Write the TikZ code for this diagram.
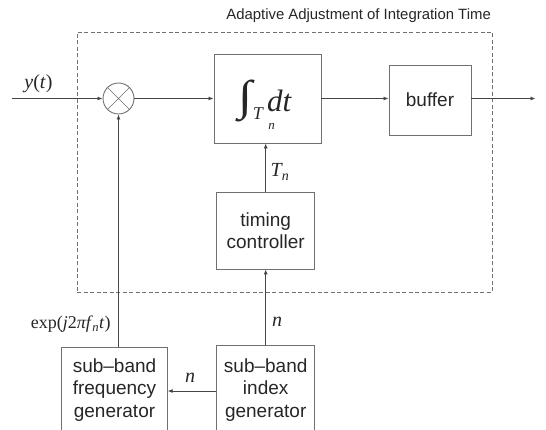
\documentclass[tikz,border=0pt]{standalone}
\usepackage{fontspec}
\setmainfont{Liberation Sans}
\usetikzlibrary{arrows.meta,calc}
\newfontfamily\labelfont{Liberation Serif}
\definecolor{linegray}{HTML}{454545}
\definecolor{boxgray}{HTML}{707070}
\definecolor{inkgray}{HTML}{262626}
\tikzset{
  blockbox/.style={draw=boxgray, line width=0.9pt, align=center, inner sep=0pt,
    font=\fontsize{19}{22.5}\selectfont, text=inkgray},
  sig/.style={draw=linegray, line width=0.8pt, -{Latex[length=5pt,width=4pt]}},
  mathlabel/.style={text=inkgray, inner sep=0pt, font=\fontsize{20}{20}\labelfont\itshape},
}
\begin{document}
\begin{tikzpicture}[x=1pt, y=-1pt]
  \useasboundingbox (0,0) rectangle (546,430);
  \clip (0,0) rectangle (546,430);

  % enclosing dashed frame and its caption
  \node[draw=boxgray, dash pattern=on 4pt off 2.5pt, line width=0.9pt, minimum width=415pt, minimum height=260pt, inner sep=0pt]
    (frame) at (284.5,162) {};
  \node[anchor=east, text=inkgray, inner sep=0pt, font=\fontsize{14.9}{14.9}\selectfont]
    (caption) at (491,15.5) {Adaptive Adjustment of Integration Time};

  % multiplier
  \node[draw=boxgray, line width=0.9pt, circle, minimum size=31pt, inner sep=0pt] (mult) at (118.5,98.5) {};
  \draw[boxgray, line width=0.7pt] (mult.north east) -- (mult.south west)
                                    (mult.north west) -- (mult.south east);

  % blocks
  \node[blockbox, minimum width=107pt, minimum height=89pt] (integ) at (267.5,98.5) {};
  \node[blockbox, minimum width=82pt, minimum height=70pt] (buffer) at (430,100) {buffer};
  \node[blockbox, minimum width=98pt, minimum height=77pt] (timing) at (265.7,230.5) {timing\\controller};
  \node[blockbox, minimum width=105.5pt, minimum height=86pt] (freq) at (114.5,390) {sub\textendash band\\frequency\\generator};
  \node[blockbox, minimum width=98pt, minimum height=90pt] (index) at (265.7,390) {sub\textendash band\\index\\generator};

  % integral over T_n inside the integrator block
  \node[inner sep=0pt, text=inkgray] (intsign) at (245,101)
    {\resizebox*{14pt}{42pt}{\labelfont\char"222B}};
  \node[inner sep=0pt, text=inkgray, font=\fontsize{18}{18}\labelfont\itshape] (intT) at (258,114) {T};
  \node[inner sep=0pt, text=inkgray, font=\fontsize{13}{13}\labelfont\itshape] (intn) at (271.5,126) {n};
  \node[anchor=base west, inner sep=0pt, text=inkgray, font=\fontsize{31}{31}\labelfont\itshape] (intdt) at (267,111.5) {dt};

  % free ends of the main signal path
  \coordinate (in) at (12,98.5);
  \coordinate (out) at (535.5,98.5);

  % connectors
  \draw[sig] (in) -- (mult.west);
  \draw[sig] (mult.east) -- (integ.west |- mult.east);
  \draw[sig] (integ.east |- mult.east) -- (buffer.west |- mult.east);
  \draw[sig] (buffer.east |- mult.east) -- (out);
  \draw[sig] (timing.north) -- (timing.north |- integ.south);
  \draw[sig] (index.north) -- (timing.south);
  \draw[sig] (index.west |- 0,391) -- (freq.east |- 0,391);
  \draw[sig] (mult.south |- freq.north) -- (mult.south);

  % signal labels
  \node[mathlabel] (ylab) at (38.5,84) {y\textup{(}t\textup{)}};
  \node[mathlabel] (tlab) at (280,172) {T\textsubscript{n}};
  \node[mathlabel, anchor=east, font=\fontsize{18}{18}\labelfont] (explab) at (110.8,324)
    {exp(\textit{j}2\textit{\char"03C0 f}\kern-0.5pt\textsubscript{\textit{n}}\textit{t})};
  \node[mathlabel] (nup) at (277,322) {n};
  \node[mathlabel] (nleft) at (190,378) {n};
\end{tikzpicture}
\end{document}
